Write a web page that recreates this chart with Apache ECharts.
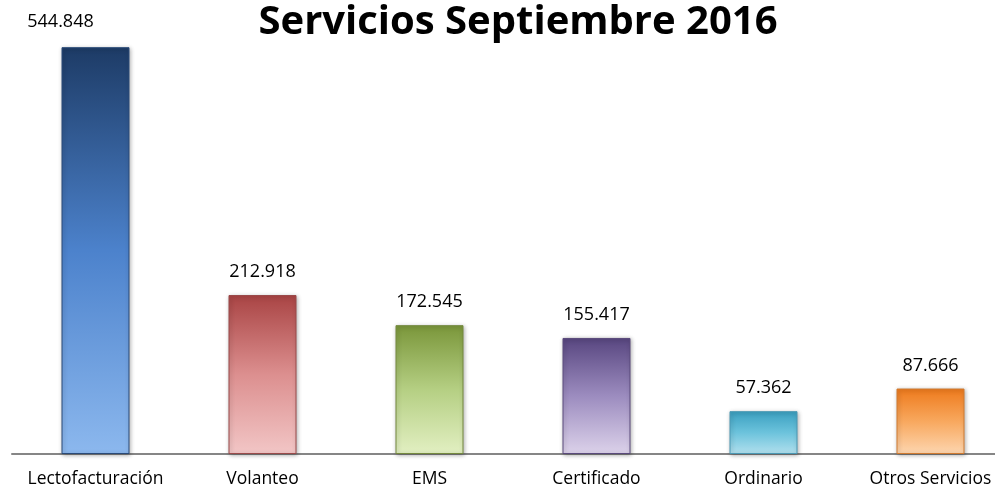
<!DOCTYPE html>
<html>
<head>
<meta charset="utf-8">
<script src="https://cdn.jsdelivr.net/npm/echarts@6/dist/echarts.min.js"></script>
<style>
  html, body { margin: 0; padding: 0; background: #fff; }
  #chart { width: 995px; height: 493px; }
</style>
</head>
<body>
<div id="chart"></div>
<script>
const categories = ['Lectofacturación', 'Volanteo', 'EMS', 'Certificado', 'Ordinario', 'Otros Servicios']
const values = [544.848, 212.918, 172.545, 155.417, 57.362, 87.666]
// top / middle / bottom colour of each bar's gradient
const barColors = [
  ['#1d3b66', '#4c82cc', '#8cb8ee'],
  ['#a94444', '#dc8f8f', '#f2c6c6'],
  ['#7a963a', '#b5cf83', '#e2efc2'],
  ['#584680', '#9c8cbf', '#dcd2ea'],
  ['#3a9fc0', '#6cc3dc', '#b2e0ee'],
  ['#ee7a1c', '#f8a85e', '#fdd6b0'],
]
const borderColors = ['#2a4a78', '#9a4a4a', '#74893e', '#5a4a7c', '#4a98b4', '#d07a30']

const fmt = (v) => v.toFixed(3)

const chart = echarts.init(document.getElementById('chart'))
chart.setOption({
  animation: false,
  backgroundColor: '#fff',
  textStyle: { fontFamily: '"Open Sans", sans-serif' },
  title: {
    text: 'Servicios Septiembre 2016',
    left: 513, top: -2,
    textAlign: 'center',
    textStyle: { fontSize: 40, fontWeight: 'bold', color: '#000', fontFamily: '"Open Sans", sans-serif' },
  },
  grid: { left: 12, width: 1002, top: 6, height: 448, outerBoundsMode: 'none', containLabel: false },
  xAxis: {
    type: 'category', data: categories,
    axisLine: { lineStyle: { color: '#868686', width: 2 } },
    axisTick: { show: false },
    axisLabel: { color: '#000', fontSize: 17.5, margin: 16, interval: 0 },
  },
  yAxis: {
    type: 'value', min: 0, max: 600,
    show: false,
  },
  series: [{
    type: 'bar',
    barWidth: 68,
    data: values.map((v, i) => ({
      value: v,
      itemStyle: {
        color: new echarts.graphic.LinearGradient(0, 0, 0, 1, [
          { offset: 0, color: barColors[i][0] },
          { offset: 0.5, color: barColors[i][1] },
          { offset: 1, color: barColors[i][2] },
        ]),
        borderColor: borderColors[i],
        borderWidth: 1,
        shadowColor: 'rgba(0,0,0,0.3)',
        shadowBlur: 4,
        shadowOffsetX: 1,
        shadowOffsetY: 1,
      },
      // the first label sits to the left, out of the title's way
      label: i === 0 ? { offset: [-35, -2] } : undefined,
    })),
    label: {
      show: true, position: 'top', distance: 14,
      color: '#000', fontSize: 18,
      formatter: (p) => fmt(p.value),
    },
  }],
})
</script>
</body>
</html>
